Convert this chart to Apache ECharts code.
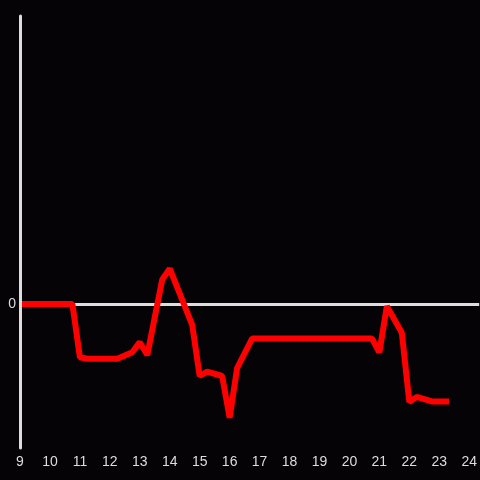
<!DOCTYPE html>
<html>
<head>
<meta charset="utf-8">
<script src="https://cdn.jsdelivr.net/npm/echarts@6/dist/echarts.min.js"></script>
<style>
html,body{margin:0;padding:0;background:#050305;}
#c{width:480px;height:480px;}
</style>
</head>
<body>
<div id="c"></div>
<script>
const hours = [9, 10.75, 11, 11.25, 12.25, 12.75, 13, 13.25, 13.75, 14, 14.75, 15, 15.25, 15.75, 16, 16.25, 16.75, 20.75, 21, 21.25, 21.75, 22, 22.25, 22.75, 23.33];
const values = [0, 0, -3.7, -3.8, -3.8, -3.35, -2.65, -3.55, 1.7, 2.45, -1.45, -5.0, -4.7, -5.0, -7.9, -4.45, -2.4, -2.4, -3.35, -0.15, -2.0, -6.8, -6.45, -6.77, -6.77];
const xTicks = [9, 10, 11, 12, 13, 14, 15, 16, 17, 18, 19, 20, 21, 22, 23, 24];
const baseline = 0;

const chart = echarts.init(document.getElementById('c'));
const axisColor = '#dddddd';
chart.setOption({
  backgroundColor: '#050305',
  animation: false,
  grid: {left: 20, right: 0, top: 16, bottom: 32},
  xAxis: {
    type: 'value', min: 9, max: 24.333, interval: 1, position: 'bottom',
    axisLine: {show: false}, axisTick: {show: false}, splitLine: {show: false},
    axisLabel: {color: axisColor, fontSize: 14, margin: 7, showMaxLabel: false,
      formatter: v => xTicks.includes(v) ? String(v) : ''}
  },
  yAxis: {
    type: 'value', min: -10, max: 20, interval: 10, z: 10,
    axisLine: {show: true, lineStyle: {color: axisColor, width: 3}},
    axisTick: {show: false}, splitLine: {show: false},
    axisLabel: {color: axisColor, fontSize: 14, margin: 4, formatter: v => v === 0 ? '0' : ''}
  },
  series: [{
    type: 'line', data: [], z: 1, silent: true,
    markLine: {
      silent: true, symbol: ['none', 'none'], label: {show: false},
      lineStyle: {color: axisColor, width: 3, type: 'solid'},
      data: [{yAxis: baseline}]
    }
  }, {
    type: 'line',
    data: hours.map((h, i) => [h, values[i]]),
    showSymbol: false, symbol: 'none',
    lineStyle: {color: '#ff0000', width: 6, join: 'bevel'},
    z: 5
  }]
});
</script>
</body>
</html>
